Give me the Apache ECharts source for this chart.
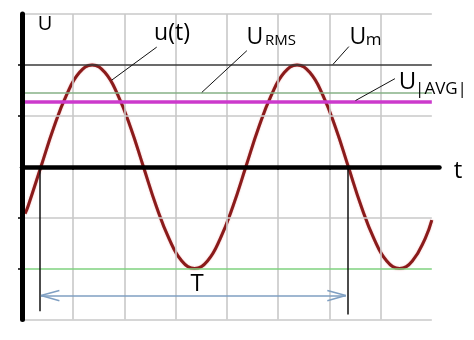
<!DOCTYPE html>
<html>
<head>
<meta charset="utf-8">
<script src="https://cdn.jsdelivr.net/npm/echarts@6/dist/echarts.min.js"></script>
<style>
html,body{margin:0;padding:0;background:#fff;}
#chart{width:474px;height:340px;}
</style>
</head>
<body>
<div id="chart"></div>
<script>
// ---- data ----
const tValues = [0.06, 0.12, 0.37, 0.62, 0.87, 1.12, 1.37, 1.62, 1.87, 2.12, 2.37, 2.62, 2.87, 3.12, 3.37, 3.62, 3.87, 4.12, 4.37, 4.62, 4.87, 5.12, 5.37, 5.62, 5.87, 6.12, 6.37, 6.62, 6.87, 7.12, 7.37, 7.62, 7.87, 8.0];
const uValues = [-0.92, -0.77, 0, 0.77, 1.41, 1.85, 2, 1.85, 1.41, 0.77, 0, -0.77, -1.41, -1.85, -2, -1.85, -1.41, -0.77, 0, 0.77, 1.41, 1.85, 2, 1.85, 1.41, 0.77, 0, -0.77, -1.41, -1.85, -2, -1.85, -1.41, -1.05];
const gridT = [1, 2, 3, 4, 5, 6, 7];
const gridU = [-3, -1, 1, 3];
const uMax = 2;
const uNegMax = -2;
const uRms = 1.45;
const uAvg = 1.27;
const periodStart = 0.34;
const periodEnd = 6.35;
const tMin = 0, tMax = 8.15, tEndLines = 8;
const uMin = -3, uTop = 3;
const yTicks = [-2, -1, 1, 2];
const xTicks = [1, 2, 3, 4, 5, 6, 7];
// annotation anchor points (data coords)
const leaderUt = [[2.63, 2.35], [1.75, 1.70]];
const leaderRms = [[4.39, 2.28], [3.51, 1.46]];
const leaderUm = [[6.38, 2.36], [6.07, 2.01]];
const leaderAvg = [[7.28, 1.73], [6.51, 1.30]];
const arrowU = -2.53;
const periodLineBottom = [-2.84, -2.90];

const chart = echarts.init(document.getElementById('chart'), null, {renderer: 'canvas'});

function seg(a, b, color, width) {
  return [{coord: a, lineStyle: {color: color, width: width, type: 'solid'}}, {coord: b}];
}

const bgLines = [];
gridT.forEach(t => bgLines.push(seg([t, uMin], [t, uTop], '#c8c8c8', 1.6)));
gridU.forEach(u => bgLines.push(seg([tMin, u], [tEndLines, u], '#c8c8c8', 1.6)));
bgLines.push(seg([tMin, uMax], [tEndLines, uMax], '#3a3a3a', 1.5));
bgLines.push(seg([tMin, uNegMax], [tEndLines, uNegMax], '#7fd27f', 1.6));
bgLines.push(seg([tMin, uRms], [tEndLines, uRms], '#86b086', 1.5));
bgLines.push(seg([tMin, uAvg], [tEndLines, uAvg], '#cc3acc', 3.5));

const annLines = [];
annLines.push(seg(leaderUt[0], leaderUt[1], '#111', 1));
annLines.push(seg(leaderRms[0], leaderRms[1], '#111', 1));
annLines.push(seg(leaderUm[0], leaderUm[1], '#111', 1));
annLines.push(seg(leaderAvg[0], leaderAvg[1], '#111', 1));
annLines.push(seg([periodStart, 0], [periodStart, periodLineBottom[0]], '#111', 1.5));
annLines.push(seg([periodEnd, 0], [periodEnd, periodLineBottom[1]], '#111', 1.5));
const arrowColor = '#7f9fc2';
annLines.push(seg([periodStart + 0.03, arrowU], [periodEnd - 0.03, arrowU], arrowColor, 1.5));
annLines.push(seg([periodStart + 0.03, arrowU], [periodStart + 0.39, arrowU + 0.1], arrowColor, 1.5));
annLines.push(seg([periodStart + 0.03, arrowU], [periodStart + 0.39, arrowU - 0.1], arrowColor, 1.5));
annLines.push(seg([periodEnd - 0.03, arrowU], [periodEnd - 0.39, arrowU + 0.1], arrowColor, 1.5));
annLines.push(seg([periodEnd - 0.03, arrowU], [periodEnd - 0.39, arrowU - 0.1], arrowColor, 1.5));

const FONT = '"Open Sans", "Noto Sans", sans-serif';
function txt(s, x, y, size) {
  return {type: 'text', x: x, y: y, z: 100, silent: true,
    style: {text: s, fontSize: size, fontFamily: FONT, fill: '#000',
      align: 'center', verticalAlign: 'middle', textAlign: 'center', textVerticalAlign: 'middle'}};
}

const option = {
  animation: false,
  backgroundColor: '#fff',
  grid: {left: 22, right: 34.5, top: 14, bottom: 20.5, containLabel: false},
  xAxis: {
    type: 'value', min: tMin, max: tMax, interval: 1, z: 10,
    axisLine: {onZero: true, lineStyle: {color: '#000', width: 4.5, cap: 'round'}},
    axisTick: {show: true, length: 3, customValues: xTicks, lineStyle: {color: '#000', width: 1.5}},
    axisLabel: {show: false},
    splitLine: {show: false}
  },
  yAxis: {
    type: 'value', min: uMin, max: uTop, interval: 1, z: 10,
    axisLine: {show: true, onZero: false, lineStyle: {color: '#000', width: 5, cap: 'round'}},
    axisTick: {show: true, length: 4, customValues: yTicks, lineStyle: {color: '#000', width: 1.5}},
    axisLabel: {show: false},
    splitLine: {show: false}
  },
  series: [
    {
      type: 'line', name: 'bg', data: [], z: 1, silent: true,
      markLine: {silent: true, symbol: ['none', 'none'], label: {show: false}, animation: false,
        emphasis: {disabled: true}, lineStyle: {type: 'solid'}, data: bgLines}
    },
    {
      type: 'line', name: 'u(t)', z: 3, silent: true,
      data: tValues.map((t, i) => [t, uValues[i]]),
      smooth: 0.45, showSymbol: false, symbol: 'none',
      lineStyle: {color: '#8a1b1b', width: 3, shadowColor: 'rgba(215,70,70,0.55)', shadowBlur: 1.5},
      markArea: {silent: true, itemStyle: {color: '#ffffff', opacity: 1, borderWidth: 0},
        label: {show: false},
        data: [[{coord: [periodStart + 0.04, -2.36]}, {coord: [periodEnd - 0.04, -2.68]}]]}
    },
    {
      type: 'line', name: 'ann', data: [], z: 4, silent: true,
      markLine: {silent: true, symbol: ['none', 'none'], label: {show: false}, animation: false,
        emphasis: {disabled: true}, lineStyle: {type: 'solid'}, data: annLines}
    }
  ],
  graphic: [
    txt('U', 45, 24, 20),
    txt('u(t)', 172, 33, 23),
    txt('t', 458, 171, 24),
    txt('T', 197, 284, 24),
    txt('U', 255, 37.5, 23),
    txt('RMS', 280.5, 41, 15),
    txt('U', 358, 37.5, 23),
    txt('m', 373.5, 40.5, 17),
    txt('U', 407.5, 82.5, 24),
    txt('|AVG|', 441, 89, 17)
  ]
};
chart.setOption(option);
</script>
</body>
</html>
